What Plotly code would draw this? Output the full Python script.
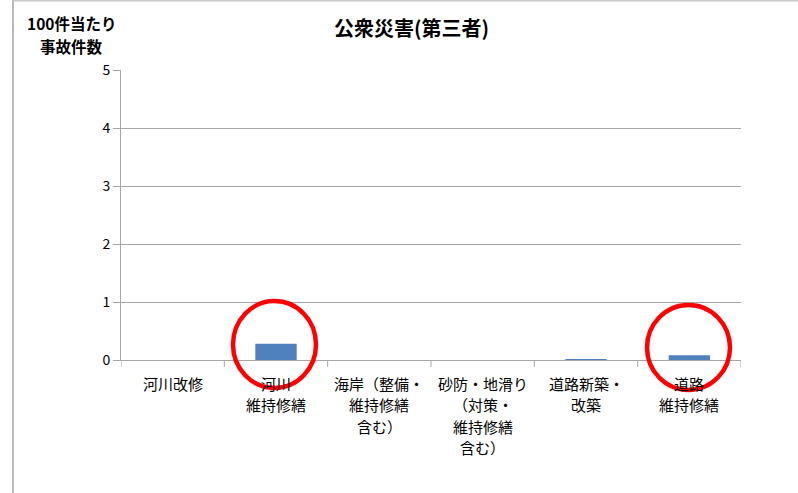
import plotly.graph_objects as go

categories = ["河川改修", "河川<br>維持修繕", "海岸（整備・<br>維持修繕<br>含む）",
              "砂防・地滑り<br>（対策・<br>維持修繕<br>含む）", "道路新築・<br>改築", "道路<br>維持修繕"]
values = [0.0, 0.28, 0.0, 0.0, 0.01, 0.08]
y_ticks = [0, 1, 2, 3, 4, 5]
title_text = "公衆災害(第三者)"
y_label_lines = ["100件当たり", "事故件数"]

W, H = 798, 493
L, R, T, B = 121, 741, 70, 360

def px(x):
    return (x - L) / (R - L)

def py(y):
    return (B - y) / (B - T)

font = "Noto Sans CJK JP"
grid = "#A6A6A6"

fig = go.Figure()
fig.add_trace(go.Bar(x=list(range(len(categories))), y=values, marker_color="#4F81BD",
                     marker_line_width=0, width=0.4))

shapes = []
# red circles
for (x0, x1, y0, y1) in [(231, 318, 299, 390), (645, 732, 303, 392)]:
    shapes.append(dict(type="circle", xref="paper", yref="paper",
                       x0=px(x0 + 2), x1=px(x1 - 2), y0=py(y1 - 2), y1=py(y0 + 2),
                       line=dict(color="#FF0000", width=4.5)))
# outer frame lines
shapes.append(dict(type="line", xref="paper", yref="paper", x0=px(13), x1=px(13), y0=py(0), y1=py(493),
                   line=dict(color="#A0A0A0", width=1.5)))
shapes.append(dict(type="line", xref="paper", yref="paper", x0=px(13), x1=px(798), y0=py(0.8), y1=py(0.8),
                   line=dict(color="#C8C8C8", width=1.5)))
# x tick marks at category boundaries
for i in range(len(categories) + 1):
    shapes.append(dict(type="line", xref="x", yref="paper", x0=i - 0.5, x1=i - 0.5, y0=0, y1=-7 / (B - T),
                       line=dict(color=grid, width=1)))

annotations = [
    dict(text="<b>" + title_text + "</b>", xref="paper", yref="paper", x=px(411), y=py(28),
         xanchor="center", yanchor="middle", showarrow=False, font=dict(size=20, family=font)),
]
for k, line in enumerate(y_label_lines):
    annotations.append(dict(text="<b>" + line + "</b>", xref="paper", yref="paper", x=px(71), y=py(23 + 23 * k),
                            xanchor="center", yanchor="middle", showarrow=False, borderpad=0,
                            font=dict(size=15.5, family=font)))
# category labels, one annotation per line for Excel-like line spacing
for i, cat in enumerate(categories):
    for k, line in enumerate(cat.split("<br>")):
        annotations.append(dict(text=line, xref="x", yref="paper", x=i, y=py(383 + 21.5 * k),
                                xanchor="center", yanchor="middle", showarrow=False, borderpad=0,
                                font=dict(size=15, family=font, color="#000")))

fig.update_layout(
    width=W, height=H,
    margin=dict(l=L, r=W - R, t=T, b=H - B, pad=0),
    paper_bgcolor="white", plot_bgcolor="white",
    showlegend=False,
    font=dict(family=font, color="#000000"),
    shapes=shapes,
    annotations=annotations,
    xaxis=dict(
        tickmode="array", tickvals=list(range(len(categories))), showticklabels=False,
        range=[-0.5, len(categories) - 0.5],
        showline=True, linecolor=grid, linewidth=1,
        showgrid=False, ticks="", zeroline=False,
    ),
    yaxis=dict(
        range=[0, 5], tickvals=y_ticks, showgrid=True, gridcolor=grid, gridwidth=1,
        showline=True, linecolor=grid, linewidth=1, ticks="outside", ticklen=7, tickcolor=grid,
        tickfont=dict(size=14, family=font, color="#000"), zeroline=False,
    ),
)

fig.write_html("out.html", config={"displayModeBar": False},
               post_script="document.body.style.margin='0px';")
